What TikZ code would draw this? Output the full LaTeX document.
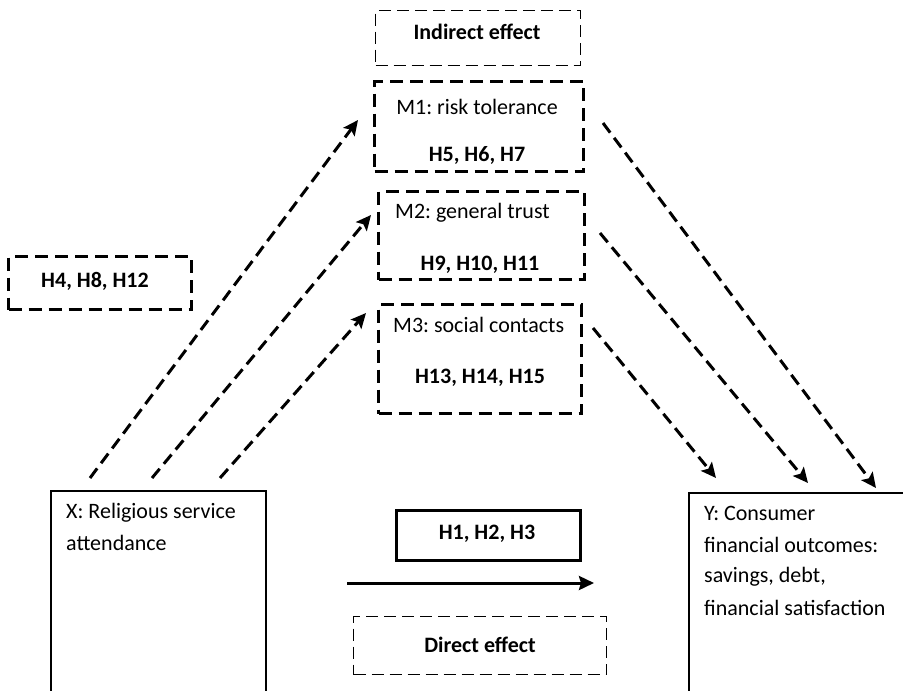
\documentclass[tikz,border=0pt]{standalone}
\usepackage{fontspec}
\setmainfont{Carlito}
\usetikzlibrary{arrows.meta}
\frenchspacing
\begin{document}
\begin{tikzpicture}[x=1pt,y=-1pt,
  thickdash/.style={draw, line width=3pt, dash pattern=on 13pt off 7pt},
  thindash/.style={draw, line width=1.4pt, dash pattern=on 12pt off 6pt},
  box/.style={rectangle, inner sep=0pt, anchor=north west},
  lbl/.style={font=\fontsize{22}{26}\selectfont, inner sep=0pt},
  blbl/.style={font=\fontsize{22}{26}\selectfont\bfseries, inner sep=0pt},
  darrow/.style={line width=3pt, dash pattern=on 12pt off 6.5pt, -{Stealth[length=15pt,width=14pt,inset=3pt]}},
  sarrow/.style={line width=3pt, -{Stealth[length=15pt,width=14pt,inset=2pt]}}]
\useasboundingbox (0,0) rectangle (903,691);
\clip (0,0) rectangle (903,691);
% boxes
\node[box, thindash, minimum width=205pt, minimum height=55pt] (ind) at (375,10) {};
\node[box, thickdash, minimum width=209pt, minimum height=90pt] (m1) at (373,80) {};
\node[box, thickdash, minimum width=206pt, minimum height=88pt] (m2) at (377,190) {};
\node[box, thickdash, minimum width=203pt, minimum height=109pt] (m3) at (377,303) {};
\node[box, thickdash, minimum width=183pt, minimum height=53pt] (h4) at (7,255) {};
\node[box, draw, line width=1.5pt, minimum width=215pt, minimum height=230pt] (xb) at (50,490) {};
\node[box, draw, line width=1.5pt, minimum width=230pt, minimum height=230pt] (yb) at (688,492) {};
\node[box, draw, line width=3pt, minimum width=184pt, minimum height=50pt] (h1) at (395,509) {};
\node[box, thindash, minimum width=253pt, minimum height=58pt] (dir) at (353,616) {};
% texts
\node[blbl] (tind) at (477,32) {Indirect effect};
\node[lbl] (tm1) at (477,107) {M1: risk tolerance};
\node[blbl] (hm1) at (477,155) {H5, H6, H7};
\node[lbl, anchor=west] (tm2) at (395,213) {M2: general trust};
\node[blbl] (hm2) at (480,265) {H9, H10, H11};
\node[lbl, anchor=west] (tm3) at (393,325) {M3: social contacts};
\node[blbl] (hm3) at (480,378) {H13, H14, H15};
\node[blbl] (th4) at (95,281) {H4, H8, H12};
\node[blbl] (th1) at (487,534) {H1, H2, H3};
\node[blbl] (tdir) at (480,645) {Direct effect};
\node[lbl, anchor=west] (x1) at (66,513) {X: Religious service};
\node[lbl, anchor=west] (x2) at (66,543) {attendance};
\node[lbl, anchor=west] (y1) at (704,513) {Y: Consumer};
\node[lbl, anchor=west] (y2) at (704,545) {financial outcomes:};
\node[lbl, anchor=west] (y3) at (704,577) {savings, debt,};
\node[lbl, anchor=west] (y4) at (704,608) {financial satisfaction};
% connector ends
\coordinate (xs1) at (90,478);
\coordinate (xs2) at (152,478);
\coordinate (xs3) at (220,478);
\coordinate (me1) at (358,120);
\coordinate (me2) at (371,215);
\coordinate (me3) at (366,313);
\coordinate (ms1) at (603,123);
\coordinate (ms2) at (600,233);
\coordinate (ms3) at (593,328);
\coordinate (ye1) at (876,488);
\coordinate (ye2) at (808,483);
\coordinate (ye3) at (716,478);
\coordinate (ds) at (347,583);
\coordinate (de) at (594,583);
% connectors
\draw[darrow] (xs1) -- (me1);
\draw[darrow] (xs2) -- (me2);
\draw[darrow] (xs3) -- (me3);
\draw[darrow] (ms1) -- (ye1);
\draw[darrow] (ms2) -- (ye2);
\draw[darrow] (ms3) -- (ye3);
\draw[sarrow] (ds) -- (de);
\end{tikzpicture}
\end{document}
